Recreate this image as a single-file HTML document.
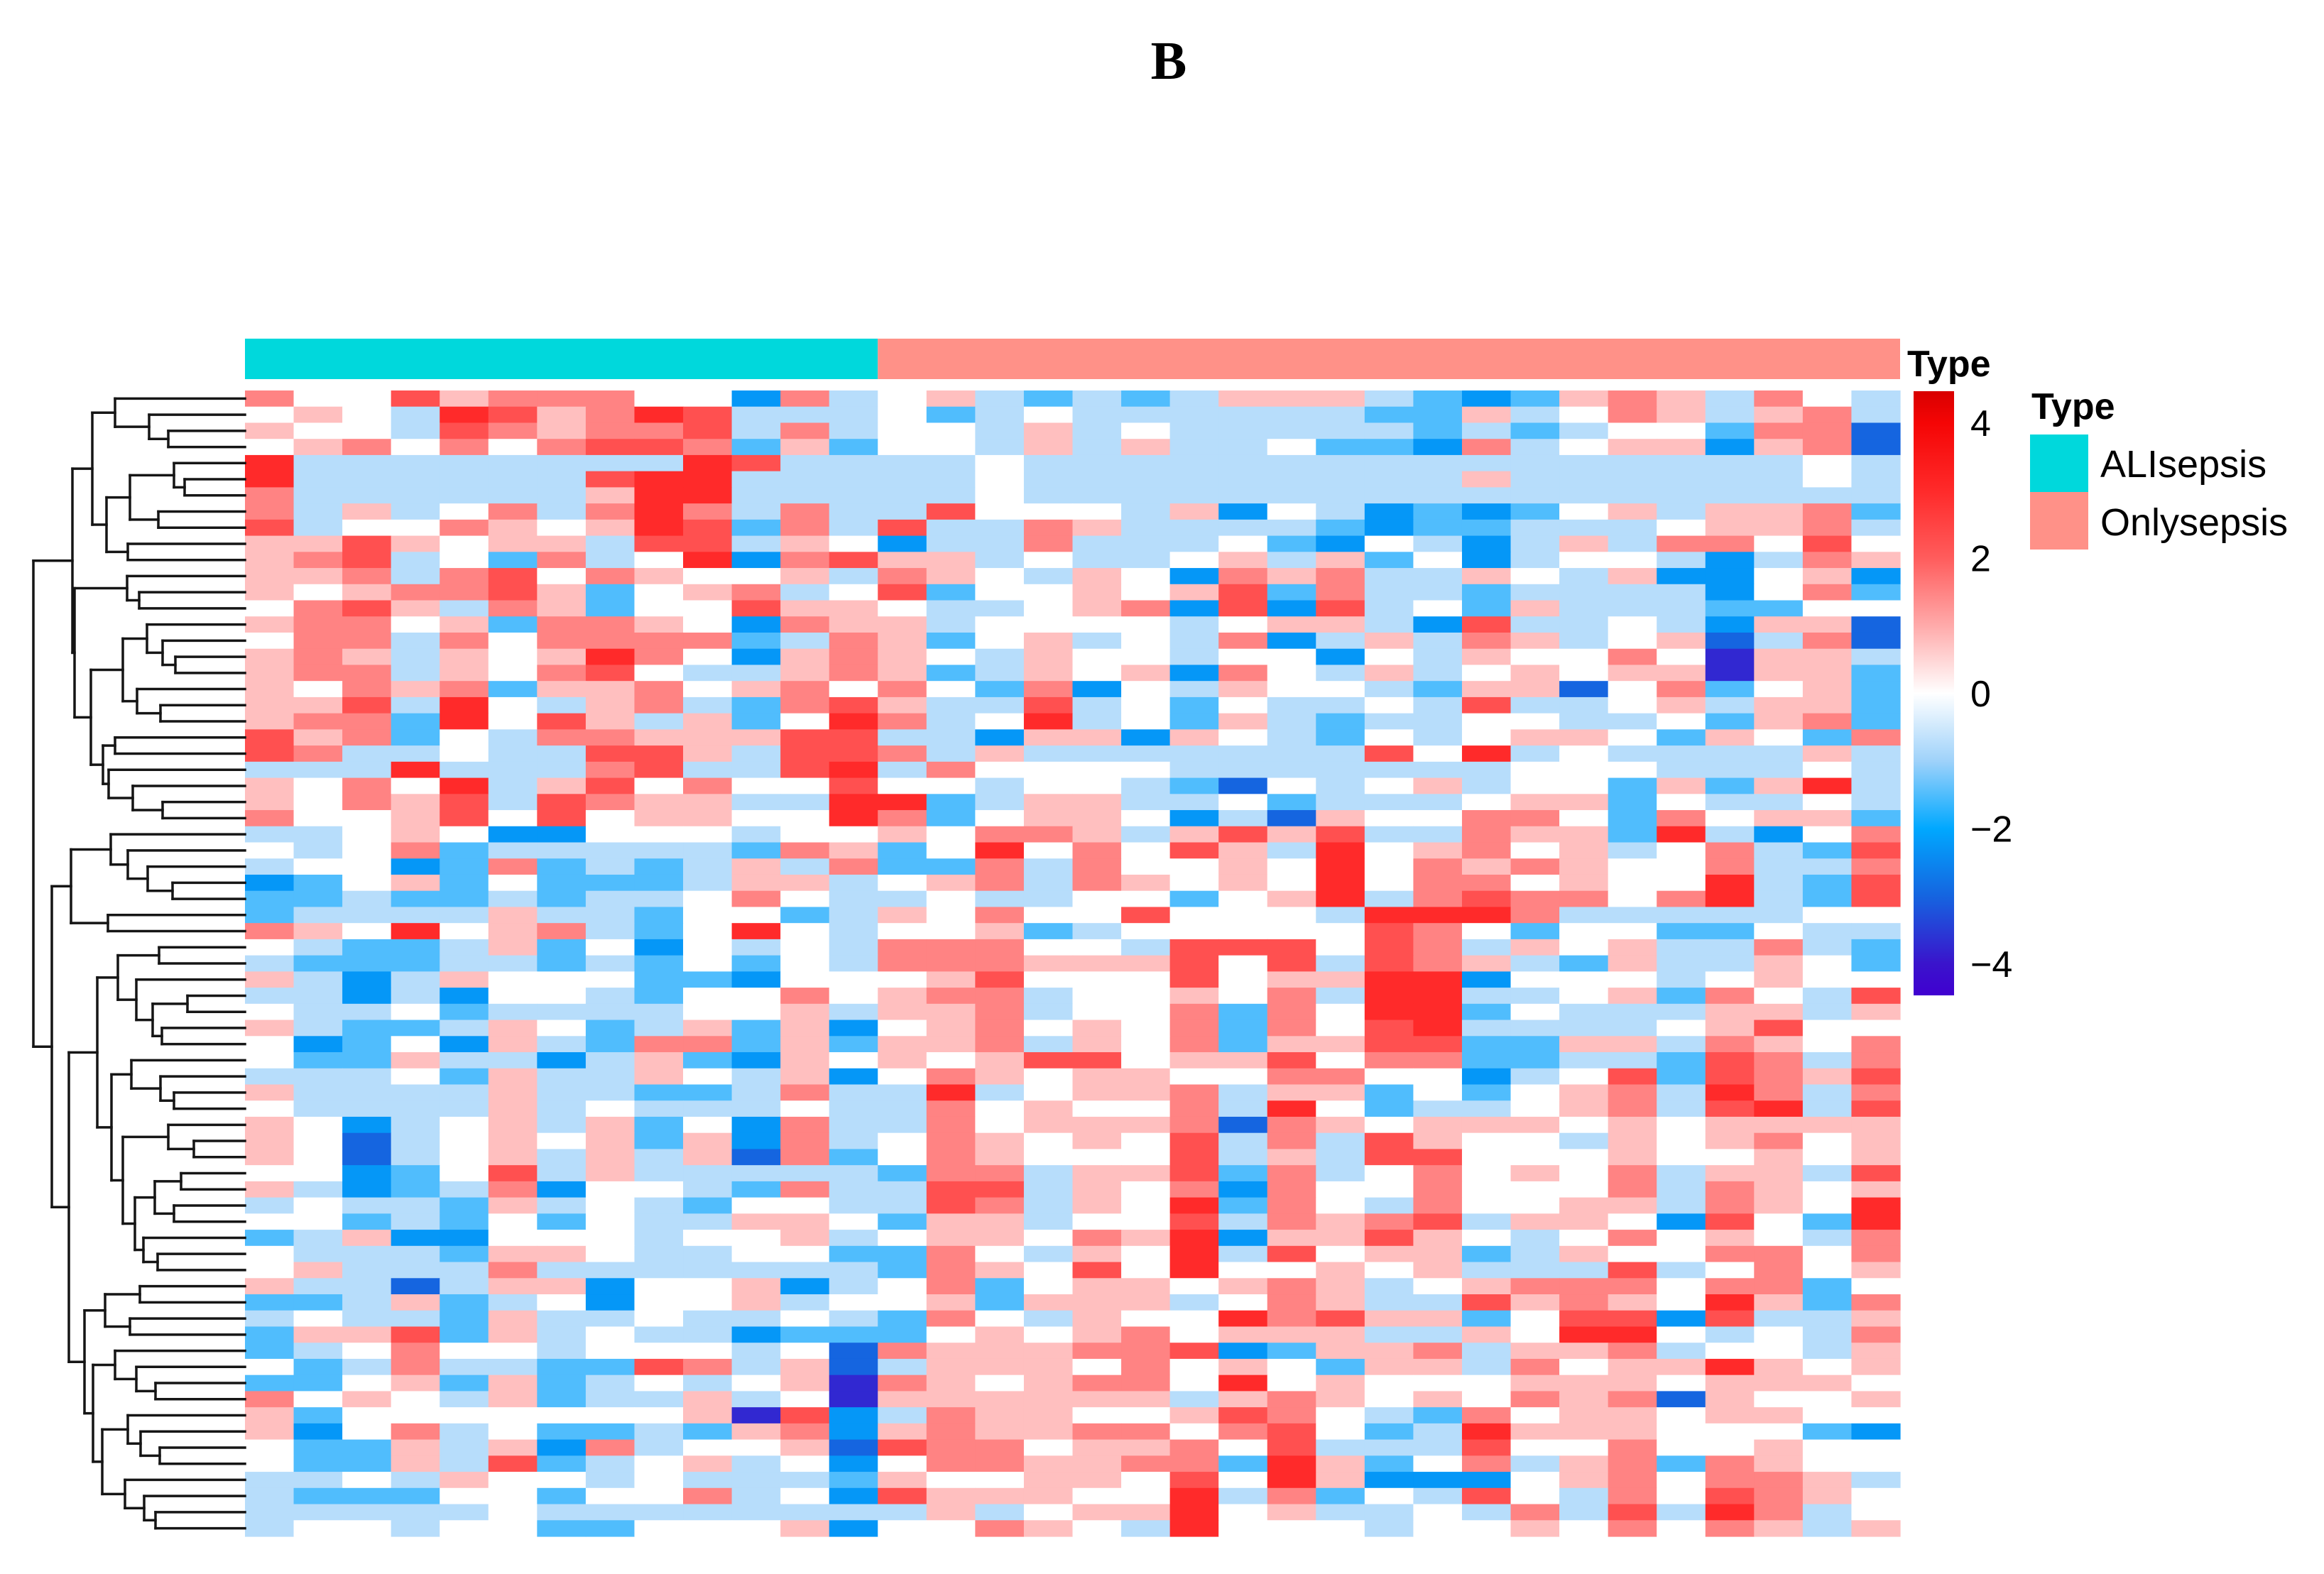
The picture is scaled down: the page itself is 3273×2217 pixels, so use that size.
<!DOCTYPE html>
<html>
<head>
<meta charset="utf-8">
<style>
html,body{margin:0;padding:0;background:#fff;}
svg{display:block;}
text{font-family:"Liberation Sans",sans-serif;}
</style>
</head>
<body>
<svg id="chart" width="3273" height="2217" viewBox="0 0 3273 2217" xmlns="http://www.w3.org/2000/svg">
  <rect x="0" y="0" width="3273" height="2217" fill="#ffffff"/>
  <text x="1646" y="111" text-anchor="middle" style="font-family:'Liberation Serif',serif;font-weight:bold;font-size:76px">B</text>
  <defs>
    <linearGradient id="cbar" x1="0" y1="0" x2="0" y2="1">
      <stop offset="0" stop-color="#d80000"/>
      <stop offset="0.053" stop-color="#f50505"/>
      <stop offset="0.165" stop-color="#ff2a2a"/>
      <stop offset="0.276" stop-color="#ff5c5c"/>
      <stop offset="0.388" stop-color="#ffaaaa"/>
      <stop offset="0.5" stop-color="#ffffff"/>
      <stop offset="0.612" stop-color="#9fd2fa"/>
      <stop offset="0.724" stop-color="#00a8ff"/>
      <stop offset="0.835" stop-color="#1565e0"/>
      <stop offset="0.947" stop-color="#3a14cc"/>
      <stop offset="1" stop-color="#4000d0"/>
    </linearGradient>
  </defs>
  <g id="annotLayer"></g>
  <g id="cellLayer"></g>
  <g id="dendroLayer"></g>
  <g id="legendLayer">
    <text x="2686" y="530" style="font-weight:bold;font-size:52px">Type</text>
    <rect x="2695" y="551" width="57" height="851" fill="url(#cbar)"/>
    <g id="cbtickLayer"></g>
    <text x="2861" y="590" style="font-weight:bold;font-size:52px">Type</text>
    <rect x="2859" y="612" width="82" height="81" fill="#00d8dc"/>
    <rect x="2859" y="693" width="82" height="81" fill="#ff9188"/>
    <text x="2958" y="672" style="font-size:54px">ALIsepsis</text>
    <text x="2958" y="754" style="font-size:54px">Onlysepsis</text>
  </g>
</svg>
<script>
var groups = ["ALIsepsis", "Onlysepsis"];
var groupSizes = [13, 21];
var groupColors = ["#00d8dc", "#ff9188"];
// digit d encodes z-score (d - 5) * 0.75
var rowsALI = [
"7558677755274","5654986798444","6554876778474","5675757887363","9444444449844","9444444899444",
"7444444699444","7464574797474","8455765698374","6686566488465","6784537459278","6674785765564",
"6567786356745","5786476355866","6775637765276","5774757777347","6764656975267","6774657854467",
"6576736675675","6684954674378","6773958646359","8673547766688","8744544886488","4449444784489",
"6575946857558","6576848766449","7556858566559","4456522555455","5457344444376","4552373434647",
"2356353334664","3343343445754","3444464435534","7659567435954","5433463525454","4333443435354",
"6424655533255","4424255435575","5445344445564","6433465346362","5235264377363","5336442463265",
"4445364465462","6444464433474","5444464544454","6524564635274","6514565636274","6514564646173",
"5523584644444","6423472554374","4544364543554","5534353544665","3462255545564","5444366544553",
"5644474444444","6441466255624","3346345255645","4544364454454","3668364544233","3457554555451",
"5347443387461","3356363454560","7565463446450","6355555556082","6257453343672","5336462745561",
"5336483456452","4454655454443","4333553557452","4444454444444","4554553355562"
];
var rowsOnly = [
"564343466643236764754","534544444433645764674","554645444443434553771","554646445332745662671",
"445444444444444444454","445444444444644444454","445444444444444444444","485554625423235646673",
"844764444323344456674","244744453254246477585","664544564635245542476","765465276744654622562",
"835565683744344442573","544567282845364443355","645555456642844542661","635645472464764561471",
"654655455254655750664","634656275464565660663","753725465543661573563","644845354454844564663",
"745945364344554453673","442662654354566536537","746444444485945444464","475555444444455544454",
"554554315456455363694","934664453444566354454","735665241655775375663","657764686844766394257",
"359575864956756457438","337475565957676557447","567476565957756559438","454455356947877579438",
"657558555499974444455","556345555587535533544","777554888587465644743","777666858487643644653",
"568555856699255545655","677455657499445637548","667455737599354446646","567565737589444456855",
"667465736688336647657","656885668577334438747","576566557755245838768","494566746635356749747",
"475655749534456748948","475666717656665656666","576565847486554656756","576555846488555655656",
"377466837457565746648","488465727557555747656","487465937547556647659","366455847678466528539",
"566576926686545756547","375465948566346557757","376585955656444845756","573566567645677757735",
"563666457644867659637","375465597866358828446","356567566644659954547","766677823667466745546",
"466657565366475669656","765677595655566656665","666666467656576716556","476655687543756656655",
"676677578534966655532","877566758444855755655","577667739635746737655","655665859622256757764",
"866655947354854758765","464566956445474849745","557654955545565757646"
];
var colorbarTicks = [4, 2, 0, -2, -4];

var SVGNS = "http://www.w3.org/2000/svg";
var hmLeft = 345, hmRight = 2676, hmTop = 550, hmBottom = 2164;
var nCols = groupSizes[0] + groupSizes[1];
var nRows = rowsALI.length;
var cw = (hmRight - hmLeft) / nCols;
var rh = (hmBottom - hmTop) / nRows;
function xPos(c) { return hmLeft + c * cw; }
function yPos(r) { return hmTop + r * rh; }
function decodeVal(ch) { return (parseInt(ch, 10) - 5) * 0.75; }

var cstops = [
  [-4.5, [64, 0, 208]], [-4, [58, 20, 204]], [-3, [21, 101, 224]], [-2, [0, 168, 255]],
  [-1, [159, 210, 250]], [0, [255, 255, 255]], [1, [255, 170, 170]], [2, [255, 92, 92]],
  [3, [255, 42, 42]], [4, [245, 5, 5]], [4.5, [216, 0, 0]]
];
function colorOf(v) {
  if (v <= cstops[0][0]) return "rgb(" + cstops[0][1].join(",") + ")";
  for (var i = 1; i < cstops.length; i++) {
    if (v <= cstops[i][0]) {
      var v0 = cstops[i - 1][0], c0 = cstops[i - 1][1], v1 = cstops[i][0], c1 = cstops[i][1];
      var t = (v - v0) / (v1 - v0);
      var out = [];
      for (var k = 0; k < 3; k++) out.push(Math.round(c0[k] + (c1[k] - c0[k]) * t));
      return "rgb(" + out.join(",") + ")";
    }
  }
  return "rgb(" + cstops[cstops.length - 1][1].join(",") + ")";
}

function drawAnnot() {
  var layer = document.getElementById("annotLayer");
  var startCol = 0;
  for (var gi = 0; gi < groups.length; gi++) {
    var r = document.createElementNS(SVGNS, "rect");
    r.setAttribute("x", xPos(startCol));
    r.setAttribute("y", 477);
    r.setAttribute("width", groupSizes[gi] * cw);
    r.setAttribute("height", 57);
    r.setAttribute("fill", groupColors[gi]);
    
    
    layer.appendChild(r);
    startCol += groupSizes[gi];
  }
}

function drawCells() {
  var layer = document.getElementById("cellLayer");
  for (var r = 0; r < nRows; r++) {
    var row = rowsALI[r] + (rowsOnly[r] || "");
    for (var c = 0; c < row.length && c < nCols; c++) {
      var v = decodeVal(row.charAt(c));
      var rect = document.createElementNS(SVGNS, "rect");
      rect.setAttribute("x", xPos(c).toFixed(2));
      rect.setAttribute("y", yPos(r).toFixed(2));
      rect.setAttribute("width", (cw + 0.6).toFixed(2));
      rect.setAttribute("height", (rh + 0.6).toFixed(2));
      rect.setAttribute("fill", colorOf(v));
      
      
      layer.appendChild(rect);
    }
  }
}

function drawTicks() {
  var layer = document.getElementById("cbtickLayer");
  var zeroY = 977, unit = 95.3;
  for (var i = 0; i < colorbarTicks.length; i++) {
    var t = colorbarTicks[i];
    var tx = document.createElementNS(SVGNS, "text");
    tx.setAttribute("x", 2775);
    tx.setAttribute("y", zeroY - t * unit + 18);
    tx.setAttribute("style", "font-size:52px");
    tx.textContent = t < 0 ? "\u2212" + Math.abs(t) : String(t);
    
    
    layer.appendChild(tx);
  }
}

// dendrogram nodes: [joinX, left, right]; leaf = row index
var dA = [130, [162, 0, [210, 1, [237, 2, 3]]], [150, [183, [245, 4, [260, 5, 6]], [223, 7, 8]], [180, 9, 10]]];
var dB = [179, 11, [196, 12, 13]];
var dC = [173, [207, 14, [229, 15, [247, 16, 17]]], [193, 18, [226, 19, 20]]];
var dD = [145, [162, 21, 22], [153, 23, [187, 24, [229, 25, 26]]]];
var dTop = [102, dA, [105, dB, [128, dC, dD]]];
var dE = [100, [156, 27, [180, 28, [208, 29, [243, 30, 31]]]], [152, 32, 33]];
var dP = [166, [224, 34, 35], [192, 36, [215, [264, 37, 38], [228, 39, 40]]]];
var dQ = [157, [185, 41, [226, 42, [245, 43, 44]]],
  [173, [237, 45, [273, 46, 47]], [190, [218, [255, 48, 49], [245, 50, 51]], [202, 52, [222, 53, 54]]]]];
var dL = [119, [148, [197, 55, 56], [183, 57, 58]],
  [131, [162, 59, [192, 60, [219, 61, 62]]], [144, [180, 63, [198, 64, [225, 65, 66]]], [176, 67, [203, 68, [219, 69, 70]]]]]];
var dRoot = [47, dTop, [73, dE, [97, [137, dP, dQ], dL]]];

function addLine(layer, x1, y1, x2, y2) {
  var l = document.createElementNS(SVGNS, "line");
  l.setAttribute("x1", x1); l.setAttribute("y1", y1);
  l.setAttribute("x2", x2); l.setAttribute("y2", y2);
  l.setAttribute("stroke", "#151515");
  l.setAttribute("stroke-width", "3.5");
  l.setAttribute("stroke-linecap", "square");
  
  
  layer.appendChild(l);
}
function drawNode(layer, node) {
  if (typeof node === "number") return { x: hmLeft, y: yPos(node) + rh / 2 };
  var h = node[0];
  var a = drawNode(layer, node[1]), b = drawNode(layer, node[2]);
  addLine(layer, h, a.y, a.x, a.y);
  addLine(layer, h, b.y, b.x, b.y);
  addLine(layer, h, a.y, h, b.y);
  return { x: h, y: (a.y + b.y) / 2 };
}
function drawDendro() {
  drawNode(document.getElementById("dendroLayer"), dRoot);
}

try { drawAnnot(); } catch (e) {}
try { drawCells(); } catch (e) {}
try { drawTicks(); } catch (e) {}
try { drawDendro(); } catch (e) {}
</script>
</body>
</html>
